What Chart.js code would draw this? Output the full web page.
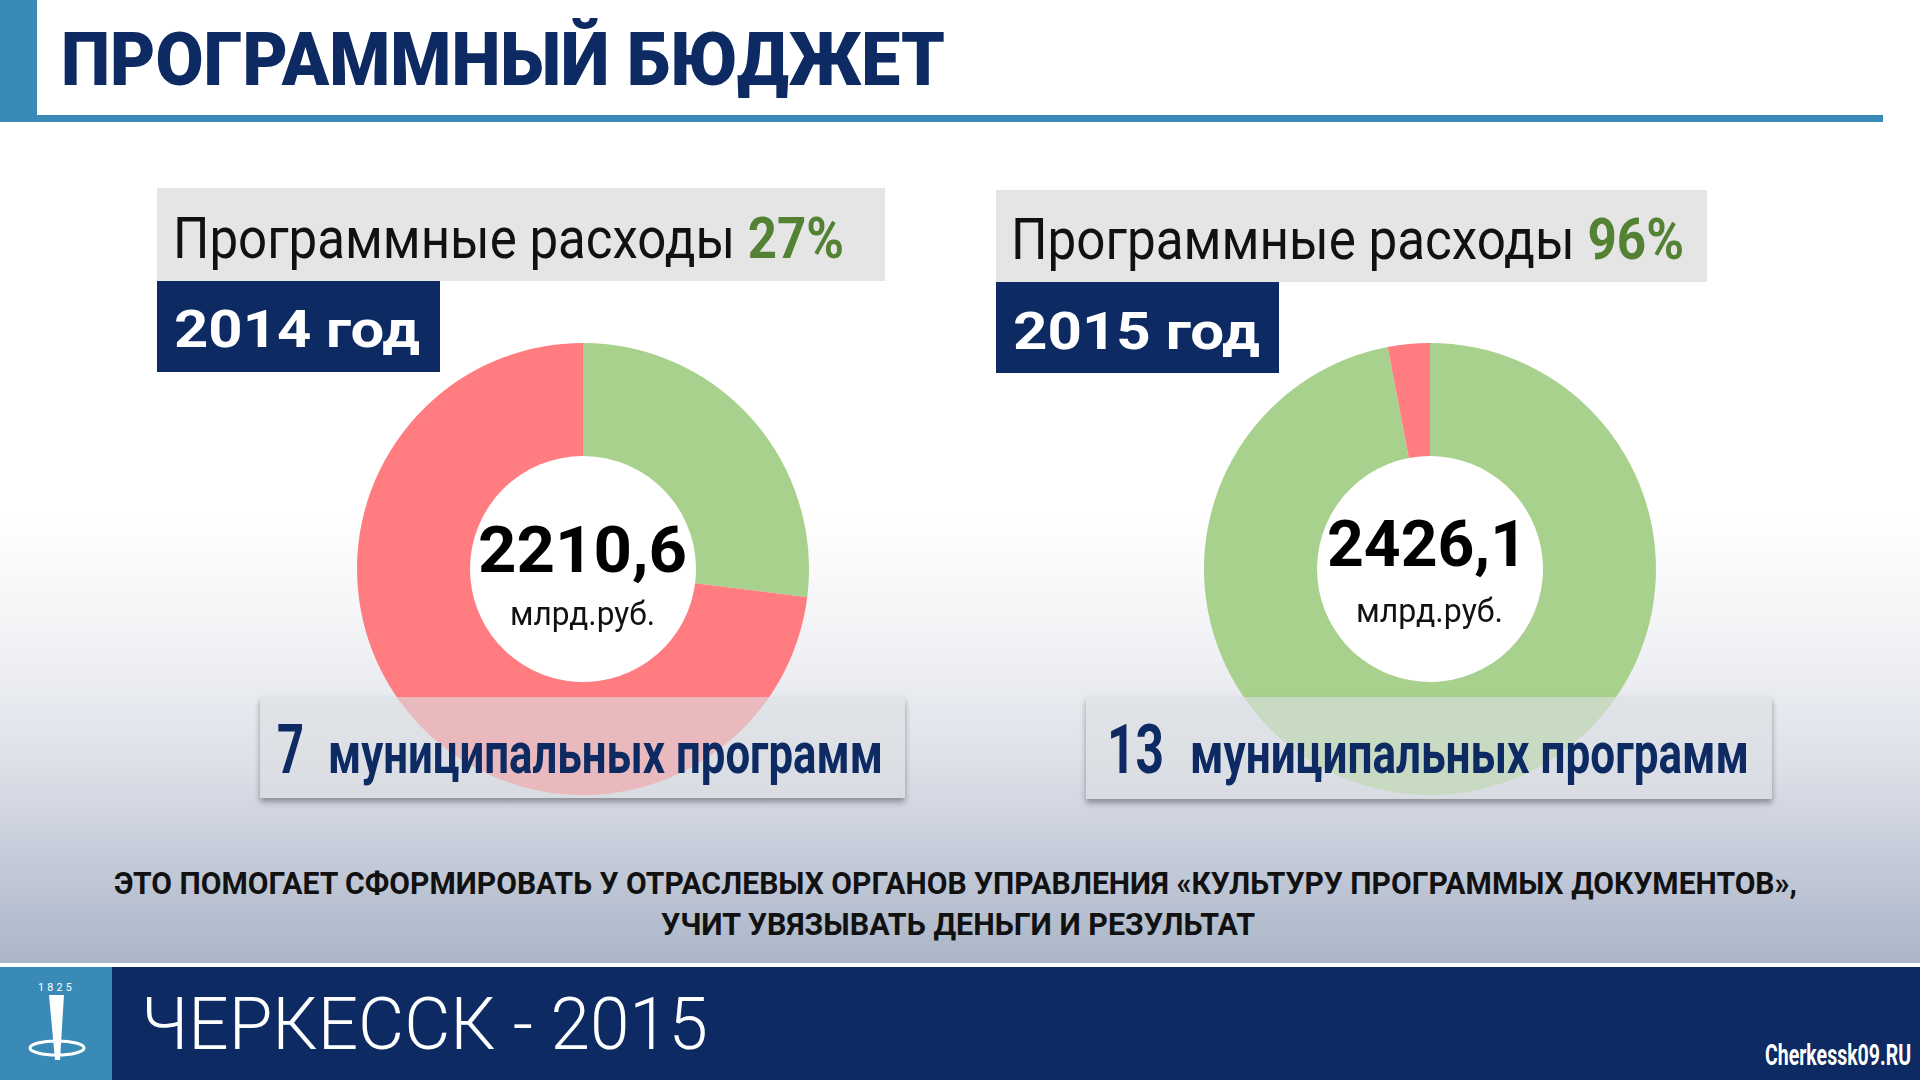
<!DOCTYPE html>
<html lang="ru">
<head>
<meta charset="utf-8">
<title>Программный бюджет</title>
<script src="https://cdn.jsdelivr.net/npm/chart.js@4.4.1/dist/chart.umd.min.js"></script>
<style>
  html, body { margin: 0; padding: 0; }
  body { width: 1920px; height: 1080px; position: relative; overflow: hidden; background: #fff; font-family: Roboto, "Noto Sans", sans-serif; }
  .abs { position: absolute; }
  .txt { position: absolute; white-space: nowrap; line-height: 1; transform-origin: 0 0; }
  #bg { left: 0; top: 122px; width: 1920px; height: 841px;
        background: linear-gradient(to bottom, #ffffff 0%, #ffffff 47%, #f0f1f4 63%, #dde1e9 76%, #c4cad8 88%, #aab6c8 100%); }
  #hdrBar { left: 0; top: 0; width: 37px; height: 122px; background: #3a8ab8; }
  #hdrLine { left: 37px; top: 115px; width: 1846px; height: 7px; background: #3a8ab8; }
  .grayBox { background: #e5e5e5; }
  .navyBox { background: #0d2a63; }
  .progBox { background: rgba(220, 222, 226, 0.62); box-shadow: 0 4px 6px rgba(0, 0, 0, 0.35); }
  #footer { left: 0; top: 967px; width: 1920px; height: 113px; background: #0d2a63; }
  #footWhite { left: 0; top: 963px; width: 1920px; height: 4px; background: #fff; }
  #logoBox { left: 0; top: 967px; width: 112px; height: 113px; background: #3a8ab8; }
  canvas { position: absolute; }
</style>
</head>
<body>
<div id="bg" class="abs"></div>
<div id="hdrBar" class="abs"></div>
<div id="hdrLine" class="abs"></div>

<div class="abs grayBox" style="left:157px;top:188px;width:728px;height:93px"></div>
<div class="abs navyBox" style="left:157px;top:281px;width:283px;height:91px"></div>
<div class="abs grayBox" style="left:996px;top:190px;width:711px;height:92px"></div>
<div class="abs navyBox" style="left:996px;top:282px;width:283px;height:91px"></div>

<canvas id="chart2014" width="452" height="452" style="left:357px;top:343px"></canvas>
<canvas id="chart2015" width="452" height="452" style="left:1204px;top:343px"></canvas>

<div class="abs progBox" style="left:260px;top:697px;width:645px;height:101px"></div>
<div class="abs progBox" style="left:1086px;top:697px;width:686px;height:102px"></div>

<div id="footWhite" class="abs"></div>
<div id="footer" class="abs"></div>
<div id="logoBox" class="abs">
  <svg width="112" height="113" viewBox="0 0 112 113">
    <polygon points="49,28 64,28 60,93 55,93" fill="#fff"/>
    <ellipse cx="57" cy="81" rx="27" ry="7" fill="none" stroke="#fff" stroke-width="3"/>
  </svg>
</div>

<script>
// --- DATA ---
const years = ['2014 год', '2015 год'];
const segLabels = ['Программные расходы', 'Непрограммные расходы'];
const share2014 = [27, 73];
const share2015 = [97, 3];
const shareLabels = ['27%', '96%'];
const totals = ['2210,6', '2426,1'];
const unitLabel = 'млрд.руб.';
const programCounts = ['7', '13'];
const segColors = ['#a9d18e', '#ff7c80'];

// --- TEXT HELPER ---
// x = left edge, base = baseline, width = target rendered width (text is squeezed to fit)
function put(html, o) {
  const el = document.createElement('div');
  el.className = 'txt';
  el.innerHTML = html;
  el.style.fontFamily = o.family || 'Roboto, "Noto Sans", sans-serif';
  el.style.fontSize = o.size + 'px';
  el.style.fontWeight = o.weight || 400;
  el.style.color = o.color || '#000';
  if (o.spacing) el.style.letterSpacing = o.spacing + 'px';
  el.style.left = o.x + 'px';
  el.style.top = (o.base - 0.842 * o.size) + 'px';
  el.style.zIndex = 5;
  document.body.appendChild(el);
  if (o.width) {
    const w = el.getBoundingClientRect().width;
    el.style.transform = 'scaleX(' + (o.width / w) + ')';
  }
  return el;
}

// --- CHARTS ---
const holePlugin = {
  id: 'hole',
  beforeDatasetsDraw(chart) {
    const arc = chart.getDatasetMeta(0).data[0];
    const ctx = chart.ctx;
    ctx.save();
    ctx.fillStyle = '#ffffff';
    ctx.beginPath();
    ctx.arc(arc.x, arc.y, arc.innerRadius, 0, Math.PI * 2);
    ctx.fill();
    ctx.restore();
  }
};

function makeDonut(id, values) {
  return new Chart(document.getElementById(id), {
    type: 'doughnut',
    data: {
      labels: segLabels,
      datasets: [{
        data: values,
        backgroundColor: segColors,
        borderWidth: 0,
        hoverOffset: 0,
        offset: 0
      }]
    },
    options: {
      responsive: false,
      animation: false,
      events: [],
      cutout: '50%',
      layout: { padding: 0 },
      plugins: { legend: { display: false }, tooltip: { enabled: false } }
    },
    plugins: [holePlugin]
  });
}

makeDonut('chart2014', share2014);
makeDonut('chart2015', share2015);

// --- TEXTS ---
const navy = '#0d2a63';
const pctGreen = '#548235';

put('ПРОГРАММНЫЙ БЮДЖЕТ', { x: 61, base: 85, size: 75, weight: 900, color: navy, width: 884 });

put('Программные расходы <b style="color:' + pctGreen + '">' + shareLabels[0] + '</b>',
    { x: 173, base: 258, size: 58, color: '#111', width: 671 });
put('Программные расходы <b style="color:' + pctGreen + '">' + shareLabels[1] + '</b>',
    { x: 1011, base: 259, size: 58, color: '#111', width: 673 });

put(years[0], { x: 174, base: 348, size: 52, weight: 700, color: '#fff', width: 246 });
put(years[1], { x: 1013, base: 350, size: 52, weight: 700, color: '#fff', width: 247 });

put(totals[0], { x: 478, base: 573, size: 65, weight: 700, color: '#000', width: 209 });
put(unitLabel, { x: 510, base: 625, size: 34, color: '#111', width: 145 });
put(totals[1], { x: 1327, base: 567, size: 65, weight: 700, color: '#000', width: 200 });
put(unitLabel, { x: 1356, base: 622, size: 34, color: '#111', width: 147 });

put(programCounts[0], { x: 277, base: 773, size: 69, weight: 700, color: navy, width: 27 });
put('муниципальных программ', { x: 328, base: 773, size: 57, weight: 700, color: navy, width: 555 });
put(programCounts[1], { x: 1107, base: 773, size: 69, weight: 700, color: navy, width: 57 });
put('муниципальных программ', { x: 1190, base: 773, size: 57, weight: 700, color: navy, width: 559 });

put('ЭТО ПОМОГАЕТ СФОРМИРОВАТЬ У ОТРАСЛЕВЫХ ОРГАНОВ УПРАВЛЕНИЯ «КУЛЬТУРУ ПРОГРАММЫХ ДОКУМЕНТОВ»,',
    { x: 114, base: 894, size: 31, weight: 700, color: '#111', width: 1683 });
put('УЧИТ УВЯЗЫВАТЬ ДЕНЬГИ И РЕЗУЛЬТАТ',
    { x: 661, base: 935, size: 31, weight: 700, color: '#111', width: 594 });

put('ЧЕРКЕССК - 2015', { x: 141, base: 1049, size: 73, weight: 300, color: '#fff', width: 567 });
put('Cherkessk09.RU', { x: 1765, base: 1065, size: 29, weight: 700, color: '#fff', width: 146 });
put('1825', { x: 38, base: 991, size: 10, color: '#fff', spacing: 3, width: 37 });
</script>
</body>
</html>
